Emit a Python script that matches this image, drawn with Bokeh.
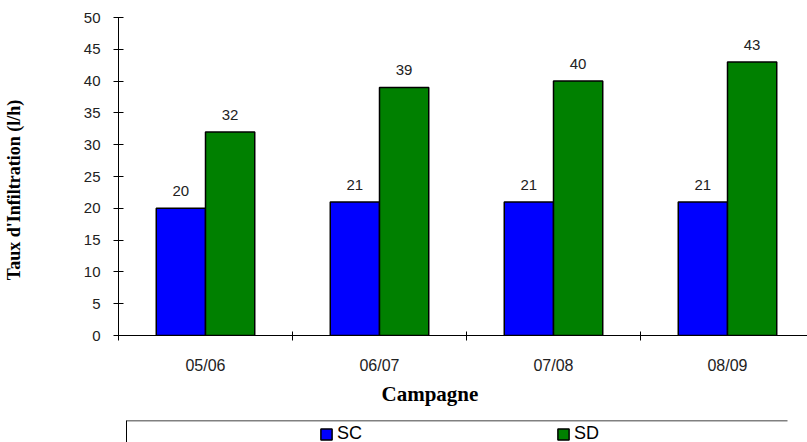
import numpy as np
from bokeh.plotting import figure
from bokeh.models import (Range1d, FixedTicker, ColumnDataSource, LabelSet,
                          Title, Legend, LegendItem, LinearAxis,
                          CustomJSTickFormatter)
from bokeh.layouts import column
from bokeh.core.properties import value
from bokeh.embed import file_html
from bokeh.resources import INLINE

# Infiltration rate per campaign, two tillage systems
campagnes = ["05/06", "06/07", "07/08", "08/09"]
sc_values = [20, 21, 21, 21]
sd_values = [32, 39, 40, 43]
series_names = ["SC", "SD"]
series_colors = ["#0000FF", "#008000"]
y_ticks = list(range(0, 55, 5))

n = len(campagnes)
centers = np.arange(n) + 0.5
bar_w = 0.283
dodge = bar_w / 2

FONT = "Liberation Sans"
SERIF = "Liberation Serif"

x_range = Range1d(0, n * 689 / 696)

p = figure(width=807, height=420, output_backend="svg", toolbar_location=None,
           x_range=x_range, y_range=Range1d(0, 50),
           min_border_left=118, min_border_right=0, min_border_top=17,
           min_border_bottom=85, outline_line_color=None,
           background_fill_color="white", border_fill_color="white")
p.grid.visible = False

src_sc = ColumnDataSource(dict(x=centers - dodge, top=sc_values,
                               label=[str(v) for v in sc_values]))
src_sd = ColumnDataSource(dict(x=centers + dodge, top=sd_values,
                               label=[str(v) for v in sd_values]))
sources = [src_sc, src_sd]

for src, col in zip(sources, series_colors):
    p.vbar(x="x", top="top", bottom=0, width=bar_w, source=src,
           fill_color=col, line_color="black", line_width=1.5)
    p.add_layout(LabelSet(x="x", y="top", text="label", source=src,
                          y_offset=12, text_align="center",
                          text_baseline="alphabetic", text_font=value(FONT),
                          text_font_size="15px", text_color="#222222"))

# y axis
ya = p.yaxis[0]
ya.ticker = FixedTicker(ticks=y_ticks)
ya.major_tick_in = 5
ya.major_tick_out = 5
ya.minor_tick_line_color = None
ya.major_label_standoff = 13
ya.major_label_text_font = FONT
ya.major_label_text_font_size = "15px"
ya.major_label_text_color = "#222222"
ya.axis_line_color = "black"
ya.axis_label = "Taux d'Infiltration (l/h)" + "\u00a0" * 6
ya.axis_label_standoff = 57
ya.axis_label_text_font = SERIF
ya.axis_label_text_font_style = "bold"
ya.axis_label_text_font_size = "18px"
ya.axis_label_text_color = "black"

# x axis: labels at category centres, marks at category boundaries
xa = p.xaxis[0]
xa.ticker = FixedTicker(ticks=list(centers), minor_ticks=list(range(n + 1)))
xa.major_label_overrides = {float(c): lab for c, lab in zip(centers, campagnes)}
xa.major_tick_in = 0
xa.major_tick_out = 0
xa.minor_tick_in = 4
xa.minor_tick_out = 5
xa.minor_tick_line_color = "black"
xa.major_label_standoff = 16
xa.major_label_text_font = FONT
xa.major_label_text_font_size = "16px"
xa.major_label_text_color = "#222222"
xa.axis_line_color = "black"

p.add_layout(Title(text="Campagne", align="left", offset=263, standoff=11,
                   vertical_align="top",
                   text_font=SERIF, text_font_style="bold",
                   text_font_size="21px", text_color="black"), "below")

# legend strip below the chart
q = figure(width=807, height=22, output_backend="svg", toolbar_location=None,
           x_range=x_range, y_range=Range1d(0, 1),
           x_axis_location=None, y_axis_location=None,
           min_border_left=118, min_border_right=0, min_border_top=0,
           min_border_bottom=0, outline_line_color=None,
           background_fill_color="white", border_fill_color="white")
q.grid.visible = False

# top rule and left edge of the legend box
box_left, box_right = 8 / 174, 669 / 174
frame_axis = LinearAxis(bounds=(box_left - 0.001, box_right),
                        ticker=FixedTicker(ticks=[box_left]),
                        formatter=CustomJSTickFormatter(code="return ''"),
                        axis_line_color="#808080", axis_line_width=2,
                        major_tick_in=22, major_tick_out=0,
                        major_tick_line_color="black",
                        minor_tick_line_color=None,
                        major_label_standoff=0,
                        major_label_text_font_size="1px")
q.add_layout(frame_axis, "above")

items = []
for name, src, col in zip(series_names, sources, series_colors):
    r = q.vbar(x="x", top="top", bottom=0, width=bar_w, source=src,
               fill_color=col, line_color="black", line_width=1.5,
               visible=False)
    items.append(LegendItem(label=name, renderers=[r]))

legend = Legend(items=items, orientation="horizontal", location=(201, -2),
                padding=0, margin=0, spacing=187, glyph_width=14,
                glyph_height=14, label_width=32, label_height=14,
                label_standoff=4, label_text_font=FONT,
                label_text_font_size="18px", label_text_color="black",
                border_line_color=None, background_fill_alpha=0)
q.add_layout(legend)

layout = column(p, q, spacing=0)
open("out.html", "w").write(file_html(layout, INLINE))
